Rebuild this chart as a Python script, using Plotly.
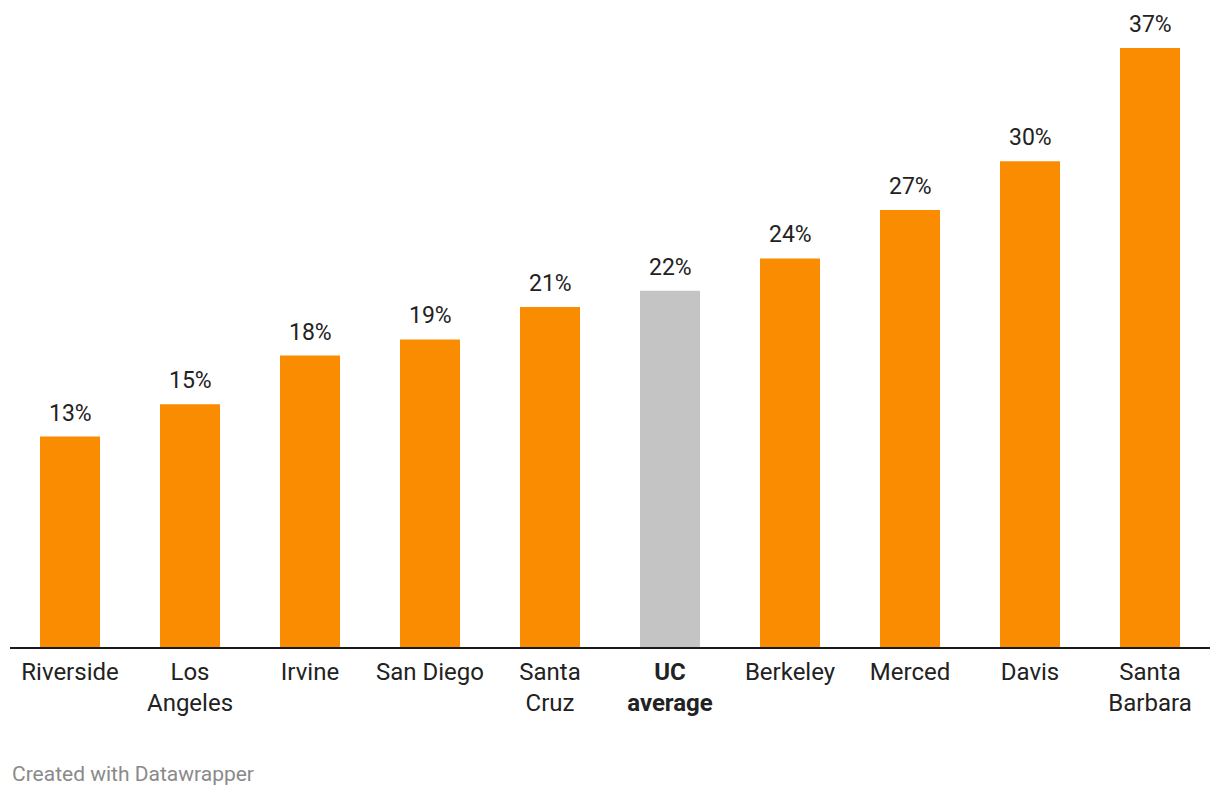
import plotly.graph_objects as go

campuses = ["Riverside", "Los Angeles", "Irvine", "San Diego", "Santa Cruz",
            "UC average", "Berkeley", "Merced", "Davis", "Santa Barbara"]
tick_labels = ["Riverside", "Los<br>Angeles", "Irvine", "San Diego", "Santa<br>Cruz",
               "<b>UC<br>average</b>", "Berkeley", "Merced", "Davis", "Santa<br>Barbara"]
values = [13, 15, 18, 19, 21, 22, 24, 27, 30, 37]

ORANGE = "#F98C00"
GRAY = "#C4C4C4"
colors = [GRAY if c == "UC average" else ORANGE for c in campuses]

# page has an 8px body margin; figure is sized to fit the 1220x796 viewport
W, H = 1212, 788
PLOT_H = 639  # plot area height (baseline at page y=647)
PX_PER_UNIT = 599 / 37

fig = go.Figure()
fig.add_trace(go.Bar(
    x=campuses, y=values, marker=dict(color=colors, line=dict(width=0)),
    width=0.5, hoverinfo="skip", showlegend=False,
))

for c, v in zip(campuses, values):
    fig.add_annotation(x=c, y=v, text=f"{v}%", showarrow=False,
                       xanchor="center", yanchor="bottom", yshift=8,
                       font=dict(family="Roboto", size=23, color="#222222"))

fig.add_annotation(xref="paper", yref="paper", x=0, y=-(774 - 647) / PLOT_H,
                   xanchor="left", yanchor="middle", showarrow=False,
                   text="Created with Datawrapper",
                   font=dict(family="Roboto", size=21, color="#8a8a8a"))

fig.update_layout(
    width=W, height=H,
    margin=dict(l=2, r=10, t=0, b=H - PLOT_H, pad=0),
    paper_bgcolor="white", plot_bgcolor="white",
    font=dict(family="Roboto", size=24, color="#222222"),
    xaxis=dict(tickmode="array", tickvals=campuses, ticktext=tick_labels,
               showline=True, linecolor="#1a1a1a", linewidth=2,
               showgrid=False, ticks="", zeroline=False, ticklabelstandoff=2,
               tickfont=dict(family="Roboto", size=24, color="#222222")),
    yaxis=dict(range=[0, PLOT_H / PX_PER_UNIT], visible=False, showgrid=False, zeroline=False),
)

fig.write_html("out.html")
